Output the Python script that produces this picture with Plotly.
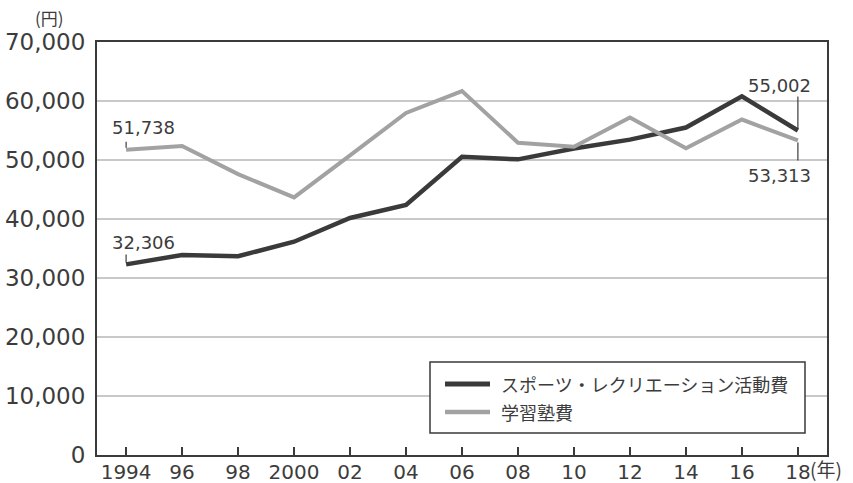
import plotly.graph_objects as go

# Household spending per year (yen)
years = [1994, 1996, 1998, 2000, 2002, 2004, 2006, 2008, 2010, 2012, 2014, 2016, 2018]
sports_recreation = [32306, 33900, 33700, 36150, 40170, 42370, 50560, 50110, 51950, 53450, 55500, 60790, 55002]
cram_school = [51738, 52370, 47600, 43670, 50800, 57970, 61690, 52920, 52250, 57200, 52000, 56860, 53313]

series_names = ["スポーツ・レクリエーション活動費", "学習塾費"]
x_tick_vals = years
x_tick_text = ["1994", "96", "98", "2000", "02", "04", "06", "08", "10", "12", "14", "16", "18"]
y_tick_vals = [0, 10000, 20000, 30000, 40000, 50000, 60000, 70000]

TEXT = "#3c3c3c"
DARK = "#3a3a3a"
LIGHT = "#a2a2a2"
NUM_FONT = "DejaVu Sans, sans-serif"
JP_FONT = "Noto Sans CJK JP, sans-serif"

W, H = 853, 483
M = dict(l=97, r=26, t=42, b=28)
PW, PH = W - M["l"] - M["r"], H - M["t"] - M["b"]


def px_x(px):
    return (px - M["l"]) / PW


def px_y(py):
    return (H - M["b"] - py) / PH


fig = go.Figure()
colors = [DARK, LIGHT]
widths = [4.5, 4]
for name, vals, c, w in zip(series_names, [sports_recreation, cram_school], colors, widths):
    fig.add_trace(go.Scatter(x=years, y=vals, mode="lines", name=name,
                             line=dict(color=c, width=w), showlegend=False))

# value labels with short leader lines at the first and last points
labels = [
    (years[0], cram_school[0], "left", -16, 22, 8),
    (years[0], sports_recreation[0], "left", -16, 22, 10),
    (years[-1], sports_recreation[-1], "right", 15, 45, 34),
    (years[-1], cram_school[-1], "right", 15, -35, -20),
]
for x, y, anchor, xs, ys, lead in labels:
    fig.add_annotation(x=x, y=y, text=f"{y:,}", showarrow=False, xanchor=anchor,
                       xshift=xs, yshift=ys, font=dict(family=NUM_FONT, size=18, color=TEXT))
    start = 2 if lead > 0 else -2
    fig.add_shape(type="line", xref="x", yref="y", x0=x, x1=x, ysizemode="pixel", yanchor=y,
                  y0=start, y1=lead, line=dict(color=TEXT, width=1.2))

# unit labels
fig.add_annotation(xref="paper", yref="paper", x=px_x(33), y=px_y(17), text="(円)",
                   showarrow=False, xanchor="left", yanchor="middle",
                   font=dict(family=JP_FONT, size=17, color=TEXT))
fig.add_annotation(xref="paper", yref="paper", x=px_x(808), y=px_y(468), text="(年)",
                   showarrow=False, xanchor="left", yanchor="middle",
                   font=dict(family=JP_FONT, size=19, color=TEXT))

# legend box
fig.add_shape(type="rect", xref="paper", yref="paper", x0=px_x(430), x1=px_x(805),
              y0=px_y(433), y1=px_y(362), line=dict(color=DARK, width=1.5), fillcolor="white",
              layer="above")
for i, (name, c, w) in enumerate(zip(series_names, colors, widths)):
    row_y = px_y(384 + 28 * i)
    fig.add_shape(type="line", xref="paper", yref="paper", x0=px_x(445), x1=px_x(490),
                  y0=row_y, y1=row_y, line=dict(color=c, width=w + 0.5), layer="above")
    fig.add_annotation(xref="paper", yref="paper", x=px_x(499), y=row_y, text=name,
                       showarrow=False, xanchor="left", yanchor="middle",
                       font=dict(family=JP_FONT, size=18, color=TEXT))

fig.update_layout(
    width=W, height=H,
    margin=M,
    paper_bgcolor="white", plot_bgcolor="white",
    showlegend=False,
    xaxis=dict(range=[1992.96, 2019.04], tickvals=x_tick_vals, ticktext=x_tick_text,
               ticks="inside", ticklen=8, tickwidth=1.5, tickcolor=DARK,
               showline=True, linecolor=DARK, linewidth=2, mirror=True,
               showgrid=False, zeroline=False, automargin=False, ticklabelstandoff=-2,
               tickfont=dict(family=NUM_FONT, size=20, color=TEXT)),
    yaxis=dict(range=[0, 70000], tickvals=y_tick_vals, tickformat=",",
               showline=True, linecolor=DARK, linewidth=2, mirror=True,
               showgrid=True, gridcolor="#c8c8c8", gridwidth=1.5, zeroline=False,
               ticks="", ticklabelstandoff=5, automargin=False,
               tickfont=dict(family=NUM_FONT, size=23, color=TEXT)),
)

fig.write_html("out.html")
